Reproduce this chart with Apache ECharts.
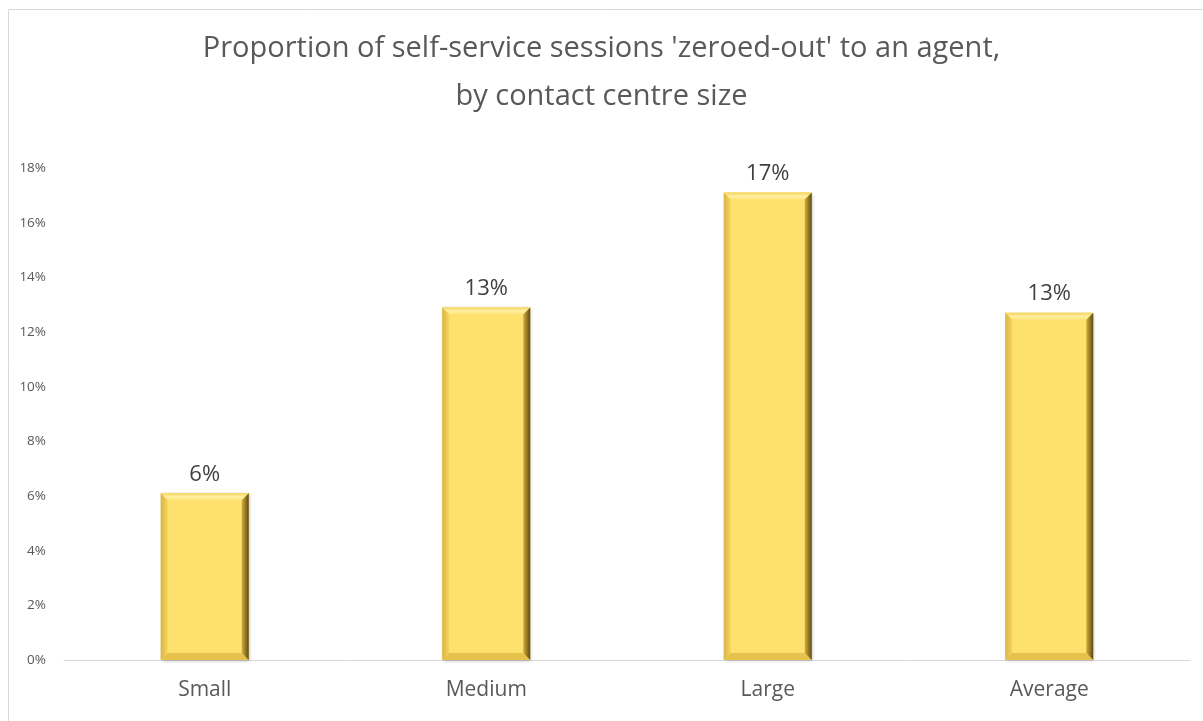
<!DOCTYPE html>
<html>
<head>
<meta charset="utf-8">
<script src="https://cdn.jsdelivr.net/npm/echarts@6/dist/echarts.min.js"></script>
<style>
  html, body { margin: 0; padding: 0; background: #fff; }
  #chart { width: 1203px; height: 721px; }
</style>
</head>
<body>
<div id="chart"></div>
<script>
const categories = ['Small', 'Medium', 'Large', 'Average'];
const values = [6.1, 12.9, 17.1, 12.7];
const titleLines = ["Proportion of self-service sessions 'zeroed-out' to an agent,", 'by contact centre size'];

const font = '"Open Sans", "Noto Sans", sans-serif';
const BAR_W = 88;
const BEVEL = 7;

// draws the bevelled edges on top of each flat bar
function renderBevel(params, api) {
  const top = api.coord([api.value(0), api.value(1)]);
  const base = api.coord([api.value(0), 0]);
  const x0 = top[0] - BAR_W / 2, x1 = top[0] + BAR_W / 2;
  const y0 = top[1], y1 = base[1];
  const b = BEVEL;
  return {
    type: 'group',
    children: [{
      type: 'polygon',
      shape: { points: [[x0, y0], [x1, y0], [x1 - b, y0 + b], [x0 + b, y0 + b]] },
      style: {
        fill: new echarts.graphic.LinearGradient(0, 0, 0, 1, [
          { offset: 0, color: '#f4d35a' },
          { offset: 0.5, color: '#fff0a0' },
          { offset: 1, color: '#fde47a' }
        ])
      }
    }, {
      type: 'polygon',
      shape: { points: [[x0, y0], [x0 + b, y0 + b], [x0 + b, y1 - b], [x0, y1]] },
      style: {
        fill: new echarts.graphic.LinearGradient(0, 0, 1, 0, [
          { offset: 0, color: '#d9b444' },
          { offset: 1, color: '#f6d65e' }
        ])
      }
    }, {
      type: 'polygon',
      shape: { points: [[x0, y1], [x0 + b, y1 - b], [x1 - b, y1 - b], [x1, y1]] },
      style: { fill: '#e6c24c' }
    }, {
      type: 'polygon',
      shape: { points: [[x1, y0], [x1, y1], [x1 - b, y1 - b], [x1 - b, y0 + b]] },
      style: {
        fill: new echarts.graphic.LinearGradient(0, 0, 1, 0, [
          { offset: 0, color: '#d2ae3e' },
          { offset: 1, color: '#5e4a14' }
        ])
      }
    }]
  };
}

const chart = echarts.init(document.getElementById('chart'));
chart.setOption({
  backgroundColor: '#ffffff',
  animation: false,
  title: {
    text: titleLines.join('\n'),
    left: 'center',
    top: 20,
    textStyle: {
      fontFamily: font,
      fontSize: 29,
      fontWeight: 'normal',
      color: '#595959',
      lineHeight: 48
    }
  },
  graphic: [{
    type: 'rect',
    shape: { x: 8.5, y: 9.5, width: 1220, height: 740 },
    style: { fill: 'none', stroke: '#d9d9d9', lineWidth: 1 },
    silent: true
  }],
  grid: { left: 64, right: 13, top: 168, bottom: 61 },
  xAxis: {
    type: 'category',
    data: categories,
    axisLine: { lineStyle: { color: '#d9d9d9', width: 1 } },
    axisTick: { show: false },
    axisLabel: {
      fontFamily: font,
      fontSize: 21,
      color: '#595959',
      margin: 20
    }
  },
  yAxis: {
    type: 'value',
    min: 0,
    max: 18,
    interval: 2,
    axisLine: { show: false },
    axisTick: { show: false },
    splitLine: { show: false },
    axisLabel: {
      formatter: '{value}%',
      fontFamily: font,
      fontSize: 13.5,
      color: '#595959',
      margin: 18
    }
  },
  series: [{
    type: 'bar',
    data: values,
    barWidth: BAR_W,
    itemStyle: {
      color: '#fee06c',
      shadowColor: 'rgba(0,0,0,0.25)',
      shadowBlur: 3,
      shadowOffsetX: 1,
      shadowOffsetY: 1
    },
    label: {
      show: true,
      position: 'top',
      distance: 8,
      formatter: p => Math.round(p.value) + '%',
      fontFamily: font,
      fontSize: 22,
      color: '#404040'
    }
  }, {
    type: 'custom',
    renderItem: renderBevel,
    data: values.map((v, i) => [i, v]),
    z: 3,
    silent: true
  }]
});
</script>
</body>
</html>
